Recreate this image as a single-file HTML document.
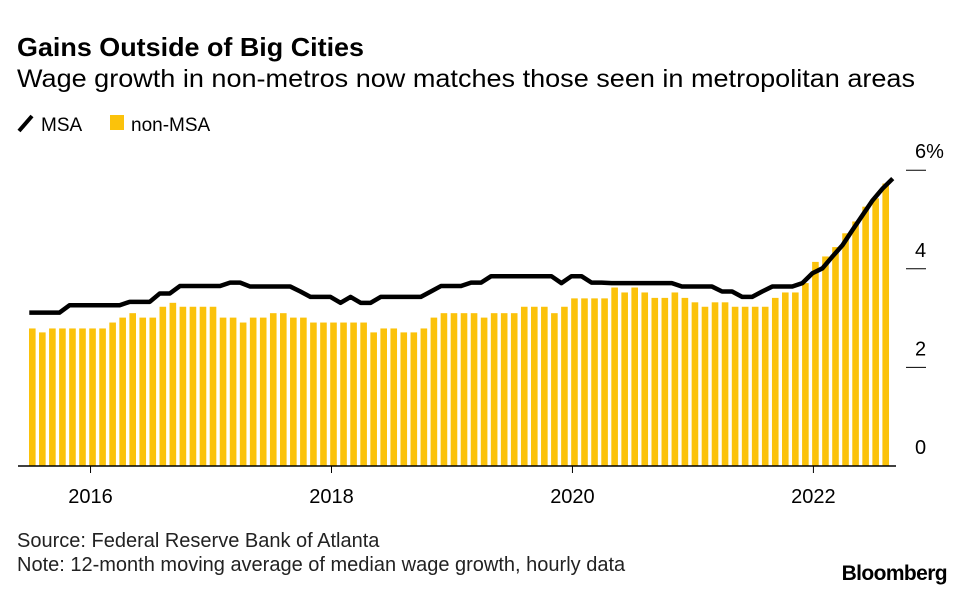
<!DOCTYPE html>
<html><head><meta charset="utf-8"><style>
body{margin:0;background:#fff;font-family:"Liberation Sans",sans-serif;}
svg{display:block}
</style></head><body>
<svg width="960" height="591" xmlns="http://www.w3.org/2000/svg">
<text x="17" y="56" font-size="26" font-weight="bold" fill="#000" textLength="347" lengthAdjust="spacingAndGlyphs">Gains Outside of Big Cities</text>
<text x="17" y="87" font-size="25" fill="#000" textLength="898" lengthAdjust="spacingAndGlyphs">Wage growth in non-metros now matches those seen in metropolitan areas</text>
<g>
<line x1="19" y1="131" x2="32" y2="116" stroke="#000" stroke-width="4"/>
<text x="41" y="131" font-size="19">MSA</text>
<rect x="110" y="115" width="14" height="15" fill="#FBC20B"/>
<text x="131" y="131" font-size="19">non-MSA</text>
</g>
<g id="bars"></g>
<path id="line" fill="none" stroke="#000" stroke-width="4.5" stroke-linejoin="round"/>
<g id="yaxis"></g>
<g id="xaxis"></g>
<text x="17" y="547" font-size="20" fill="#222">Source: Federal Reserve Bank of Atlanta</text>
<text x="17" y="571" font-size="20" fill="#222">Note: 12-month moving average of median wage growth, hourly data</text>
<text x="947" y="580" font-size="21" font-weight="bold" text-anchor="end" letter-spacing="-0.6">Bloomberg</text>
</svg>
<script>
const nonMsa=[2.79,2.71,2.79,2.79,2.79,2.79,2.79,2.79,2.91,3.01,3.10,3.01,3.01,3.23,3.31,3.23,3.23,3.23,3.23,3.01,3.01,2.91,3.01,3.01,3.10,3.10,3.01,3.01,2.91,2.91,2.91,2.91,2.91,2.91,2.71,2.79,2.79,2.71,2.71,2.79,3.01,3.10,3.10,3.10,3.10,3.01,3.10,3.10,3.10,3.23,3.23,3.23,3.10,3.23,3.40,3.40,3.40,3.40,3.62,3.52,3.62,3.52,3.41,3.41,3.52,3.41,3.32,3.23,3.32,3.32,3.23,3.23,3.23,3.23,3.41,3.52,3.52,3.71,4.14,4.25,4.44,4.72,4.96,5.26,5.43,5.73];
const msa=[3.11,3.11,3.11,3.11,3.26,3.26,3.26,3.26,3.26,3.26,3.33,3.33,3.33,3.50,3.50,3.65,3.65,3.65,3.65,3.65,3.72,3.72,3.64,3.64,3.64,3.64,3.64,3.54,3.43,3.43,3.43,3.31,3.43,3.31,3.31,3.43,3.43,3.43,3.43,3.43,3.54,3.65,3.65,3.65,3.72,3.72,3.85,3.85,3.85,3.85,3.85,3.85,3.85,3.71,3.85,3.85,3.72,3.72,3.71,3.71,3.71,3.71,3.71,3.71,3.71,3.64,3.64,3.64,3.64,3.54,3.54,3.43,3.43,3.54,3.64,3.64,3.64,3.71,3.91,4.01,4.25,4.48,4.79,5.09,5.39,5.63,5.83];
const yTicks=[0,2,4,6];
const yTickLabels=["0","2","4","6%"];
const xTickIdx=[5.8,29.8,53.8,77.8];
const xTickLabels=["2016","2018","2020","2022"];
const NS="http://www.w3.org/2000/svg";
const x=i=>32.3+i*10.04;
const y=v=>466-v*49.3;
const bars=document.getElementById('bars');
nonMsa.forEach((v,i)=>{const r=document.createElementNS(NS,'rect');
r.setAttribute('x',x(i)-3.3);r.setAttribute('y',y(v));r.setAttribute('width',6.6);r.setAttribute('height',466-y(v));r.setAttribute('fill','#FBC20B');


bars.appendChild(r);});
document.getElementById('line').setAttribute('d',msa.map((v,i)=>(i?'L':'M')+x(i-0.3)+' '+y(v)).join(''));
const ya=document.getElementById('yaxis');
yTicks.forEach((t,k)=>{
if(t>0){const l=document.createElementNS(NS,'line');l.setAttribute('x1',906);l.setAttribute('x2',926);l.setAttribute('y1',y(t));l.setAttribute('y2',y(t));l.setAttribute('stroke','#000');l.setAttribute('stroke-width',1);


ya.appendChild(l);}
const tx=document.createElementNS(NS,'text');tx.setAttribute('x',915);tx.setAttribute('y',y(t)-12);tx.setAttribute('font-size',20);tx.textContent=yTickLabels[k];


ya.appendChild(tx);});
const xa=document.getElementById('xaxis');
const base=document.createElementNS(NS,'line');base.setAttribute('x1',18);base.setAttribute('x2',896);base.setAttribute('y1',466);base.setAttribute('y2',466);base.setAttribute('stroke','#000');base.setAttribute('stroke-width',1.5);


xa.appendChild(base);
xTickIdx.forEach((t,k)=>{const l=document.createElementNS(NS,'line');l.setAttribute('x1',x(t));l.setAttribute('x2',x(t));l.setAttribute('y1',466);l.setAttribute('y2',473);l.setAttribute('stroke','#000');


xa.appendChild(l);
const tx=document.createElementNS(NS,'text');tx.setAttribute('x',x(t));tx.setAttribute('y',503);tx.setAttribute('font-size',20);tx.setAttribute('text-anchor','middle');tx.textContent=xTickLabels[k];


xa.appendChild(tx);});
</script>
</body></html>
